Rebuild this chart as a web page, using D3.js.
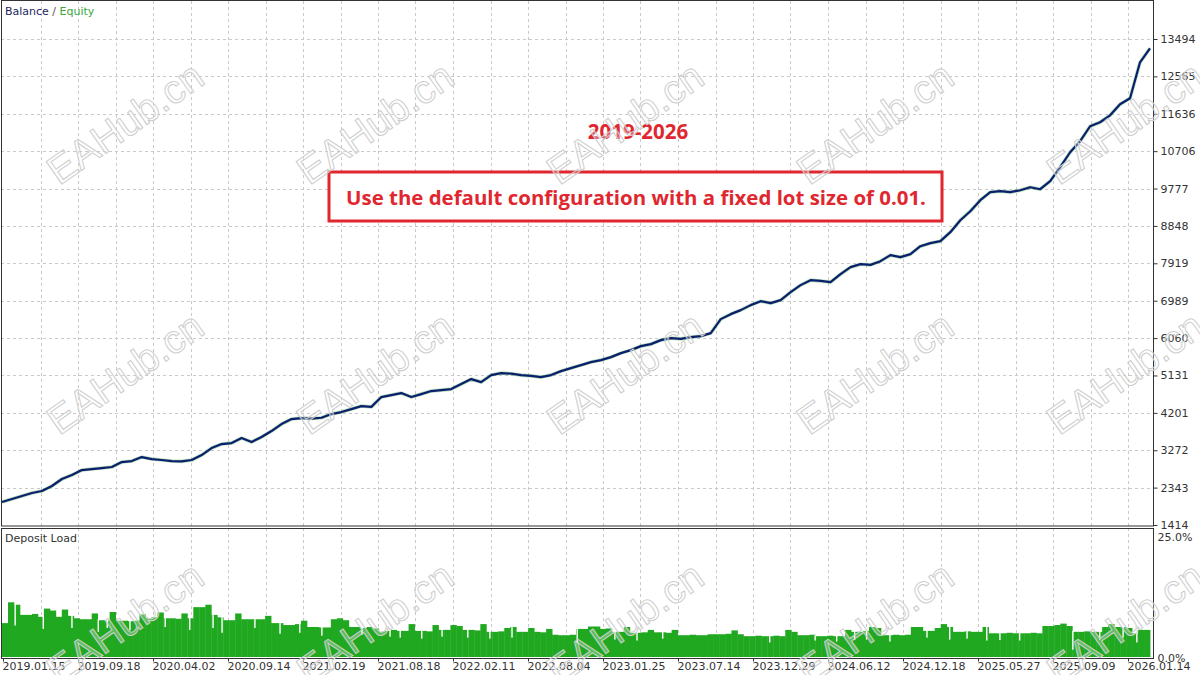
<!DOCTYPE html>
<html>
<head>
<meta charset="utf-8">
<script src="https://cdn.jsdelivr.net/npm/d3@7/dist/d3.min.js"></script>
<style>
body { margin: 0; background: #fff; }
text { font-family: "DejaVu Sans", sans-serif; }
</style>
</head>
<body>
<script>
var width = 1200,
    height = 675;

// balance curve (left to right)
var balance = [
    1985, 2060, 2134, 2209, 2259, 2383, 2557, 2656, 2780, 2805,
    2830, 2855, 2979, 3004, 3103, 3053, 3029, 3004, 2995, 3029,
    3153, 3327, 3426, 3451, 3575, 3476, 3600, 3749, 3923, 4047,
    4072, 4060, 4080, 4171, 4221, 4295, 4370, 4350, 4594, 4643,
    4693, 4594, 4668, 4743, 4767, 4792, 4916, 5041, 4966, 5140,
    5190, 5175, 5140, 5120, 5090, 5140, 5239, 5314, 5388, 5463,
    5513, 5587, 5686, 5761, 5860, 5910, 6009, 6059, 6040, 6084,
    6109, 6183, 6531, 6655, 6755, 6879, 6978, 6928, 7003, 7202,
    7376, 7500, 7480, 7450, 7649, 7823, 7897, 7880, 7972, 8121,
    8071, 8146, 8344, 8419, 8469, 8692, 8990, 9214, 9487, 9686,
    9711, 9686, 9735, 9810, 9760, 9959, 10307, 10679, 10953, 11325,
    11425, 11598, 11872, 12021, 12915, 13263
];

// deposit load in %, one bar per slice of the test
var depositLoad = [
    7.0, 11.3, 10.8, 8.7, 8.7, 8.9, 8.3, 10.0, 9.6, 8.3,
    9.8, 8.5, 8.0, 7.8, 7.8, 9.0, 7.6, 7.6, 9.3, 7.5,
    7.5, 7.4, 7.5, 8.8, 8.0, 8.2, 9.2, 8.0, 8.0, 7.9,
    9.0, 8.0, 10.3, 10.3, 10.8, 8.7, 8.2, 7.6, 7.6, 9.0,
    7.8, 7.8, 7.8, 7.8, 8.5, 7.0, 7.0, 6.6, 6.6, 6.8,
    7.5, 6.2, 6.2, 6.1, 6.1, 7.8, 8.0, 7.6, 6.2, 6.2,
    6.0, 6.2, 5.9, 5.2, 5.4, 5.6, 5.4, 5.4, 6.8, 5.4,
    5.4, 5.3, 6.6, 5.6, 5.6, 6.6, 6.4, 5.6, 5.6, 5.5,
    6.8, 5.2, 5.2, 5.3, 6.0, 6.2, 5.2, 5.2, 6.0, 5.2,
    5.1, 5.8, 4.6, 4.5, 4.5, 4.6, 5.8, 5.8, 6.3, 6.3,
    5.8, 5.9, 5.2, 5.2, 6.2, 5.0, 5.0, 5.1, 5.6, 5.1,
    5.1, 5.0, 5.6, 4.5, 4.5, 4.6, 4.5, 4.5, 4.7, 4.7,
    4.7, 4.8, 5.5, 4.7, 4.3, 4.3, 4.4, 4.3, 4.3, 4.4,
    4.3, 5.6, 5.2, 4.5, 4.5, 4.6, 4.3, 4.3, 4.4, 4.3,
    4.3, 5.6, 5.2, 5.2, 5.4, 6.2, 6.0, 4.5, 4.5, 4.6,
    4.5, 4.6, 6.2, 6.2, 5.4, 5.4, 6.0, 6.8, 6.2, 5.2,
    5.2, 5.3, 5.2, 5.2, 6.2, 4.9, 4.9, 4.9, 5.0, 4.9,
    4.9, 4.9, 5.0, 4.9, 6.4, 6.4, 6.6, 6.9, 6.4, 5.2,
    5.2, 5.3, 5.2, 5.2, 6.2, 6.8, 6.2, 6.2, 6.0, 4.9,
    5.6, 5.6
];

// thin white gaps in the load bars: [position in bars, bottom of gap %]
var loadDips = [
    [2.2, 6.5], [6.9, 5.8], [11.7, 6.0], [16.1, 5.2], [17.6, 6.0], [21.4, 5.5],
    [27.3, 6.2], [31.4, 5.6], [35.3, 6.0], [36.8, 5.0], [42.3, 6.0], [46.5, 4.8],
    [49.8, 5.0], [53.5, 4.4], [60.2, 4.6], [64.9, 4.2], [66.6, 4.0], [70.2, 3.8],
    [73.6, 4.2], [77.9, 4.0], [81.6, 3.8], [85.3, 4.0], [96.2, 2.8], [102.5, 3.6],
    [106.2, 3.4], [110.5, 3.8], [128.4, 3.0], [136, 3.4], [139.6, 3.2], [142.6, 3.5],
    [144.6, 3.6], [148.5, 3.2], [154.7, 4.0], [158.5, 3.6], [161.4, 3.8], [164.7, 3.4],
    [166.9, 3.5], [170.2, 3.4], [179.1, 1.5], [183.6, 3.6], [187.5, 4.0], [189.8, 3.0]
];

var balanceTicks = [1414, 2343, 3272, 4201, 5131, 6060, 6989, 7919, 8848, 9777, 10706, 11636, 12565, 13494];
var loadTicks = [0, 25];
var dateLabels = ["2019.01.15", "2019.09.18", "2020.04.02", "2020.09.14", "2021.02.19", "2021.08.18",
    "2022.02.11", "2022.08.04", "2023.01.25", "2023.07.14", "2023.12.29", "2024.06.12",
    "2024.12.18", "2025.05.27", "2025.09.09", "2026.01.14"];

var titleText = "2019-2026",
    noteText = "Use the default configuration with a fixed lot size of 0.01.";

var plotLeft = 1, plotRight = 1153,
    mainTop = 1, mainBottom = 526,
    loadTop = 528, loadBottom = 658;

var svg = d3.select("body").append("svg")
    .attr("width", width)
    .attr("height", height);

// scales
var yBal = d3.scaleLinear().domain([1414, 13494]).range([525, 39]),
    xBal = d3.scaleLinear().domain([0, balance.length - 1]).range([2, 1150]),
    xDate = d3.scaleLinear().domain([0, dateLabels.length - 1]).range([3, 1128]),
    xLoad = d3.scaleLinear().domain([0, depositLoad.length]).range([2, 1150]),
    yLoad = d3.scaleLinear().domain([0, 25]).range([657, 536]);

// grid
var gGrid = svg.append("g")
    .attr("stroke", "#c9c9c9")
    .attr("stroke-dasharray", "3,3")
    .attr("stroke-width", 1);

gGrid.selectAll(".hgrid")
    .data(balanceTicks.slice(1))
    .enter().append("line")
    .attr("x1", plotLeft).attr("x2", plotRight)
    .attr("y1", d => Math.round(yBal(d)) + 0.5)
    .attr("y2", d => Math.round(yBal(d)) + 0.5);

var vgrid = d3.range(0.5, dateLabels.length - 0.99, 0.5);
gGrid.selectAll(".vgrid-main")
    .data(vgrid)
    .enter().append("line")
    .attr("x1", d => Math.round(xDate(d)) + 0.5).attr("x2", d => Math.round(xDate(d)) + 0.5)
    .attr("y1", mainTop).attr("y2", mainBottom);

gGrid.selectAll(".vgrid-load")
    .data(vgrid)
    .enter().append("line")
    .attr("x1", d => Math.round(xDate(d)) + 0.5).attr("x2", d => Math.round(xDate(d)) + 0.5)
    .attr("y1", loadTop).attr("y2", loadBottom);

// deposit load bars
var barW = xLoad(1) - xLoad(0);
svg.append("g")
    .attr("fill", "#20a820")
    .selectAll("rect")
    .data(depositLoad)
    .enter().append("rect")
    .attr("x", (d, i) => xLoad(i))
    .attr("width", barW + 0.4)
    .attr("y", d => yLoad(d))
    .attr("height", d => yLoad(0) - yLoad(d));

svg.append("g")
    .attr("fill", "#ffffff")
    .selectAll("rect")
    .data(loadDips)
    .enter().append("rect")
    .attr("x", d => xLoad(d[0]) - 0.7)
    .attr("width", 1.4)
    .attr("y", d => yLoad(depositLoad[Math.floor(d[0])]) - 1)
    .attr("height", d => yLoad(d[1]) - yLoad(depositLoad[Math.floor(d[0])]) + 1);

// balance / equity
var line = d3.line()
    .x((d, i) => xBal(i))
    .y(d => yBal(d));

svg.append("path")
    .datum(balance)
    .attr("fill", "none")
    .attr("stroke", "#5dbb63")
    .attr("stroke-opacity", 0.45)
    .attr("stroke-width", 3.6)
    .attr("stroke-linejoin", "round")
    .attr("d", line);

svg.append("path")
    .datum(balance)
    .attr("fill", "none")
    .attr("stroke", "#0c1e6e")
    .attr("stroke-width", 2.2)
    .attr("stroke-linejoin", "round")
    .attr("d", line);

// panel borders
svg.append("rect")
    .attr("x", plotLeft + 0.5).attr("y", mainTop - 0.5)
    .attr("width", plotRight - plotLeft).attr("height", mainBottom - mainTop + 0.5)
    .attr("fill", "none").attr("stroke", "#333");

svg.append("rect")
    .attr("x", plotLeft + 0.5).attr("y", loadTop + 0.5)
    .attr("width", plotRight - plotLeft).attr("height", loadBottom - loadTop)
    .attr("fill", "none").attr("stroke", "#333");

// axes
var balAxis = svg.append("g")
    .attr("transform", "translate(" + (plotRight + 0.5) + ",0)")
    .call(d3.axisRight(yBal).tickValues(balanceTicks).tickSize(4).tickPadding(3).tickFormat(d3.format("d")));

var loadAxis = svg.append("g")
    .attr("transform", "translate(" + (plotRight + 0.5) + ",0)")
    .call(d3.axisRight(yLoad).tickValues(loadTicks).tickSize(0).tickPadding(4).tickFormat(d => d.toFixed(1) + "%"));

var dateAxis = svg.append("g")
    .attr("transform", "translate(0," + (loadBottom + 0.5) + ")")
    .call(d3.axisBottom(xDate).tickValues(d3.range(dateLabels.length)).tickSize(3).tickPadding(1).tickFormat(i => dateLabels[i]));

[balAxis, loadAxis, dateAxis].forEach(function(g) {
    g.select(".domain").remove();
    g.selectAll("line").attr("stroke", "#333");
    g.selectAll("text")
        .attr("fill", "#333")
        .style("font-size", "11px")
        .style("font-family", "'DejaVu Sans', sans-serif");
});
dateAxis.selectAll("text").attr("text-anchor", "start").attr("dx", -1);
loadAxis.selectAll("text").attr("dy", "0.45em");

// panel titles
var legend = svg.append("text")
    .attr("x", 5).attr("y", 15)
    .style("font-size", "11px");
legend.append("tspan").attr("fill", "#1b1f5e").text("Balance");
legend.append("tspan").attr("fill", "#555").text(" / ");
legend.append("tspan").attr("fill", "#3aa83a").text("Equity");

svg.append("text")
    .attr("x", 5).attr("y", 542)
    .attr("fill", "#333")
    .style("font-size", "11px")
    .text("Deposit Load");

// red annotation
svg.append("text")
    .attr("x", 638).attr("y", 131)
    .attr("text-anchor", "middle")
    .attr("dominant-baseline", "central")
    .attr("fill", "#e0272f")
    .style("font-family", "'Open Sans', sans-serif")
    .style("font-weight", "bold")
    .style("font-size", "20.5px")
    .text(titleText);

svg.append("rect")
    .attr("x", 329).attr("y", 172)
    .attr("width", 613).attr("height", 49)
    .attr("fill", "#fff")
    .attr("stroke", "#e0272f")
    .attr("stroke-width", 3);

var note = svg.append("text")
    .attr("x", 636).attr("y", 197)
    .attr("text-anchor", "middle")
    .attr("dominant-baseline", "central")
    .attr("fill", "#e0272f")
    .style("font-family", "'Open Sans', sans-serif")
    .style("font-weight", "bold")
    .style("font-size", "19px")
    .text(noteText);

// fit the note inside the box like the original
var noteLen = note.node().getComputedTextLength();
if (noteLen > 0) note.style("font-size", (19 * 580 / noteLen).toFixed(2) + "px");

// watermark
var wmRows = [123, 373, 623],
    wmCols = [125, 375, 625, 875, 1125];
var gWm = svg.append("g");
wmRows.forEach(function(r) {
    wmCols.forEach(function(c) {
        gWm.append("text")
            .attr("transform", "translate(" + c + "," + r + ") rotate(-35)")
            .attr("text-anchor", "middle")
            .attr("dominant-baseline", "central")
            .attr("fill", "rgba(255,255,255,0.3)")
            .attr("stroke", "#cdcdcd")
            .attr("stroke-width", 1)
            .style("font-family", "'Liberation Sans', sans-serif")
            .style("font-size", "40px")
            .text("EAHub.cn");
    });
});
</script>
</body>
</html>
